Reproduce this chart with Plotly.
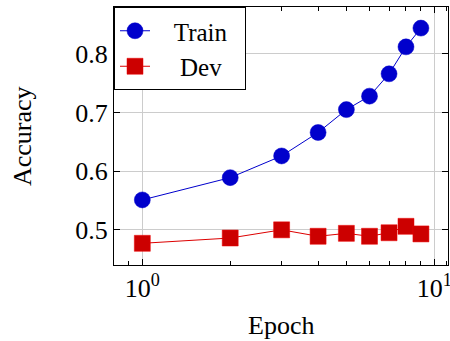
import plotly.graph_objects as go

epochs = [1, 2, 3, 4, 5, 6, 7, 8, 9]
train_acc = [0.551, 0.589, 0.626, 0.666, 0.705, 0.728, 0.766, 0.812, 0.844]
dev_acc = [0.477, 0.486, 0.500, 0.489, 0.494, 0.489, 0.495, 0.506, 0.493]
series_names = ["Train", "Dev"]
x_major = [1, 10]
x_major_text = ["10<sup>0</sup>", "10<sup>1</sup>"]
x_minor = [0.9, 2, 3, 4, 5, 6, 7, 8, 9, 11]
y_ticks = [0.5, 0.6, 0.7, 0.8]
y_tick_text = ["0.5", "0.6", "0.7", "0.8"]

FONT = "Liberation Serif"
SP = "&nbsp;"

fig = go.Figure()
fig.add_trace(go.Scatter(
    x=epochs, y=train_acc, name=SP * 3 + series_names[0] + SP * 2, mode="lines+markers",
    line=dict(color="#0000cc", width=1),
    marker=dict(symbol="circle", size=16, color="#0000cc", line=dict(color="#0000cc", width=0.5)),
))
fig.add_trace(go.Scatter(
    x=epochs, y=dev_acc, name=SP * 4 + series_names[1], mode="lines+markers",
    line=dict(color="#dd0000", width=1),
    marker=dict(symbol="square", size=16, color="#cc0000", line=dict(color="#ee0000", width=0.5)),
))

fig.update_layout(
    width=450, height=341,
    margin=dict(l=114, r=2, t=7, b=76),
    paper_bgcolor="white", plot_bgcolor="white",
    font=dict(family=FONT, size=24, color="black"),
    showlegend=True,
    legend=dict(
        x=0, y=1, xanchor="left", yanchor="top",
        bgcolor="white", bordercolor="black", borderwidth=1,
        font=dict(family=FONT, size=25),
        tracegroupgap=0,
    ),
    annotations=[
        dict(text="Accuracy", xref="paper", yref="paper", x=-0.2754, y=0.5,
             xanchor="center", yanchor="middle", textangle=-90, showarrow=False,
             font=dict(family=FONT, size=26)),
        dict(text="Epoch", xref="paper", yref="paper", x=0.5, y=-0.233,
             xanchor="center", yanchor="middle", showarrow=False,
             font=dict(family=FONT, size=26)),
    ],
)
fig.update_xaxes(
    type="log", range=[-0.097, 1.047], automargin=False,
    tickmode="array", tickvals=x_major, ticktext=x_major_text,
    ticks="inside", ticklen=6, tickcolor="black", ticklabeloverflow="allow",
    tickfont=dict(family=FONT, size=26),
    showline=True, linecolor="black", linewidth=1, mirror="ticks",
    showgrid=True, gridcolor="#cccccc", gridwidth=1,
    minor=dict(tickmode="array", tickvals=x_minor, ticks="inside", ticklen=4,
               tickcolor="black", showgrid=False),
    zeroline=False,
)
fig.update_yaxes(
    range=[0.44, 0.88], automargin=False,
    tickmode="array", tickvals=y_ticks, ticktext=y_tick_text,
    ticks="inside", ticklen=6, tickcolor="black",
    tickfont=dict(family=FONT, size=26),
    showline=True, linecolor="black", linewidth=1, mirror="ticks",
    showgrid=True, gridcolor="#cccccc", gridwidth=1,
    zeroline=False,
)

fig.write_html(
    "out.html",
    config=dict(displayModeBar=False),
    post_script="document.body.style.margin='0';document.body.style.overflow='hidden';",
)
